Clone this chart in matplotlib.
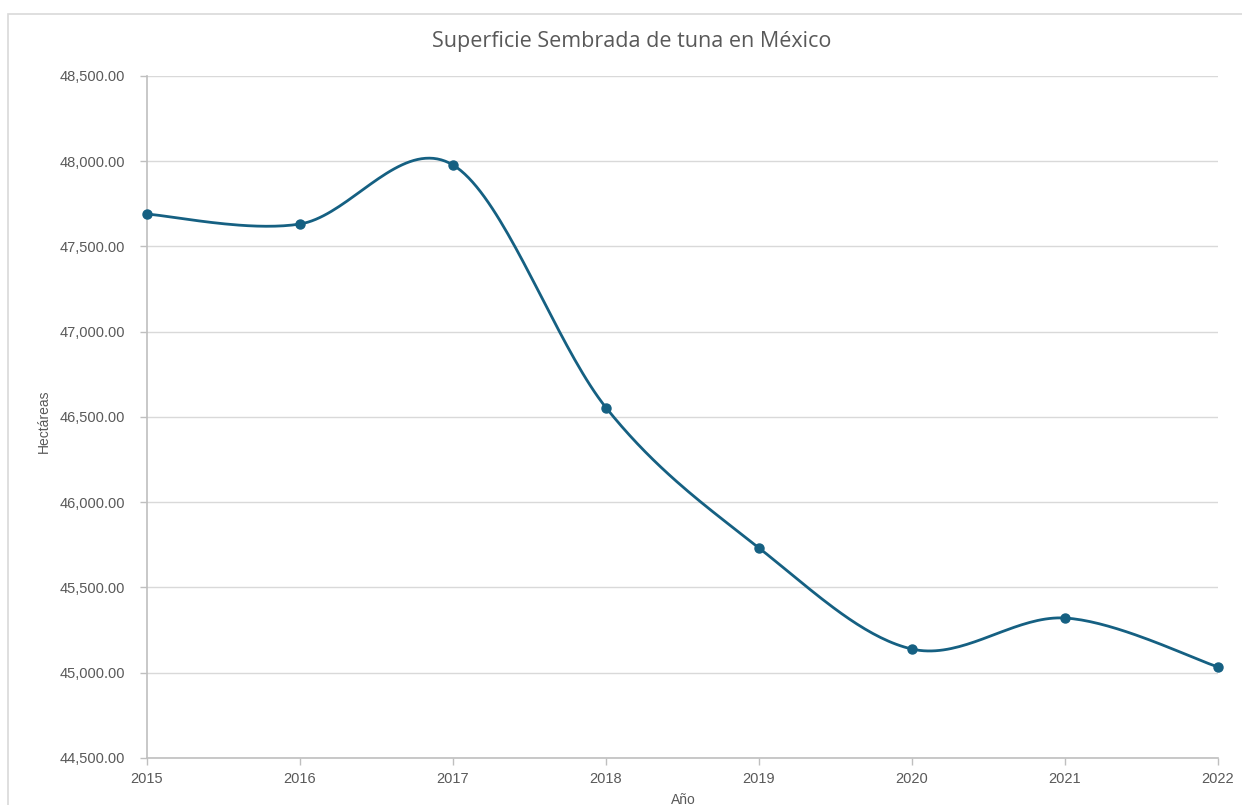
import numpy as np
import matplotlib
matplotlib.use('Agg')
import matplotlib.pyplot as plt
from matplotlib.patches import Rectangle
from matplotlib.ticker import FuncFormatter

# Superficie sembrada de tuna (ha) por año
years = [2015, 2016, 2017, 2018, 2019, 2020, 2021, 2022]
hectareas = [47690, 47632, 47978, 46555, 45732, 45139, 45321, 45034]

LINE = '#156082'
TEXT = '#595959'
GRID = '#D9D9D9'
AXIS = '#BFBFBF'

W, H = 1242, 805


def smooth_curve(x, y, n=40):
    """Bezier smoothing between points, control points at 1/6 of the neighbour span."""
    x = np.asarray(x, float)
    y = np.asarray(y, float)
    px = np.concatenate([[x[0]], x, [x[-1]]])
    py = np.concatenate([[y[0]], y, [y[-1]]])
    t = np.linspace(0, 1, n)[:, None]
    xs, ys = [], []
    for i in range(len(x) - 1):
        p0 = np.array([x[i], y[i]])
        p3 = np.array([x[i + 1], y[i + 1]])
        p1 = p0 + (np.array([px[i + 2], py[i + 2]]) - np.array([px[i], py[i]])) / 6
        p2 = p3 - (np.array([px[i + 3], py[i + 3]]) - np.array([px[i + 1], py[i + 1]])) / 6
        seg = ((1 - t) ** 3) * p0 + 3 * ((1 - t) ** 2) * t * p1 \
            + 3 * (1 - t) * t ** 2 * p2 + t ** 3 * p3
        xs.append(seg[:, 0])
        ys.append(seg[:, 1])
    return np.concatenate(xs), np.concatenate(ys)


fig = plt.figure(figsize=(W / 100, H / 100), dpi=100)
fig.patches.append(Rectangle((8 / W, -0.1), 1.2, 1 - 14 / H + 0.1,
                             transform=fig.transFigure, fill=False,
                             edgecolor=GRID, linewidth=1.2))

ax = fig.add_axes([147 / W, 1 - 758 / H, (1218 - 147) / W, (758 - 76) / H])

sx, sy = smooth_curve(years, hectareas)
ax.plot(sx, sy, color=LINE, linewidth=2, zorder=3, clip_on=False)
ax.plot(years, hectareas, 'o', color=LINE, markersize=6.5, zorder=4, clip_on=False)

ax.set_xlim(2015, 2022)
ax.set_ylim(44500, 48500)
ax.set_xticks(years)
ax.set_yticks(np.arange(44500, 48501, 500))
ax.yaxis.set_major_formatter(FuncFormatter(lambda v, p: f'{v:,.2f}'))

ax.grid(axis='y', color=GRID, linewidth=1)
ax.set_axisbelow(True)
for s in ['top', 'right']:
    ax.spines[s].set_visible(False)
for s in ['left', 'bottom']:
    ax.spines[s].set_color(AXIS)
    ax.spines[s].set_linewidth(1.2)
ax.tick_params(axis='both', colors=AXIS, labelcolor=TEXT, length=5, width=1,
               labelsize=10.5)
ax.tick_params(axis='y', pad=11)
ax.tick_params(axis='x', pad=5)
for lbl in ax.get_xticklabels() + ax.get_yticklabels():
    lbl.set_family('Liberation Sans')

fig.text(632 / W, 1 - 42 / H, 'Superficie Sembrada de tuna en México', color=TEXT,
         fontsize=15.5, family='Open Sans', ha='center', va='center')
fig.text(44 / W, 1 - 421 / H, 'Hectáreas', color=TEXT, fontsize=10,
         family='Liberation Sans', rotation=90, ha='center', va='center')
fig.text(683 / W, 1 - 793 / H, 'Año', color=TEXT, fontsize=10,
         family='Liberation Sans', ha='center', va='top')

fig.savefig('out.png', dpi=100)
